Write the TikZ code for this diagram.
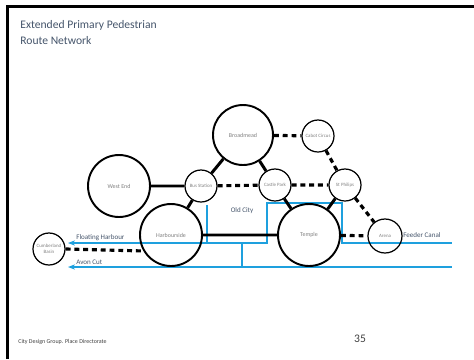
\documentclass[tikz,border=0pt]{standalone}
\usepackage{fontspec}
\setmainfont{Carlito}
\usetikzlibrary{arrows.meta}
\definecolor{water}{RGB}{30,160,222}
\definecolor{slate}{RGB}{68,84,106}
\begin{document}
\begin{tikzpicture}[x=0.02cm, y=-0.02cm,
  big/.style={circle, draw, line width=1.1pt, minimum size=1.24cm, inner sep=0pt, text=gray, font=\fontsize{3.4}{4}\selectfont},
  small/.style={circle, draw, line width=0.7pt, minimum size=0.64cm, inner sep=0pt, align=center, text=gray, font=\fontsize{2.8}{3.2}\selectfont},
  link/.style={line width=1.7pt},
  walk/.style={line width=1.8pt, dash pattern=on 2.8pt off 2.2pt},
  canal/.style={draw=water, line width=1.2pt},
  lbl/.style={inner sep=0pt, text=slate, font=\fontsize{4}{5}\selectfont}]
\useasboundingbox (0,0) rectangle (474,359);
\draw [line width=1.6pt] (7.5,359)--(7.5,6.3)--(474,6.3);
\node [anchor=west, inner sep=0pt, text=slate, font=\fontsize{6.6}{8}\selectfont] (title1) at (20,25) {Extended Primary Pedestrian};
\node [anchor=west, inner sep=0pt, text=slate, font=\fontsize{6.6}{8}\selectfont] (title2) at (20,41) {Route Network};
\node [anchor=west, inner sep=0pt, text=darkgray, font=\fontsize{3.4}{4}\selectfont] (foot) at (18,342) {City Design Group. Place Directorate};
\node [inner sep=0pt, text=darkgray, font=\fontsize{6.6}{8}\selectfont] (page) at (360,339) {35};
% water
\draw [canal, {Stealth[length=4pt]}-] (68,243)--(267,243)--(267,203)--(342,203)--(342,243)--(452,243);
\draw [canal] (207,205)--(207,243) (242,243)--(242,267);
\draw [canal, {Stealth[length=4pt]}-] (68,267)--(452,267);
\node [lbl, anchor=south west] (fh) at (76,241) {Floating Harbour};
\node [lbl, anchor=south west] (ac) at (76,265) {Avon Cut};
\node [lbl, anchor=west] (fc) at (403,235) {Feeder Canal};
\node [lbl] (oc) at (242,211) {Old City};
% places
\node [big] (we) at (119,186) {West End};
\node [big, minimum size=1.2cm] (bm) at (243,135) {Broadmead};
\node [big] (hb) at (171,235) {Harbourside};
\node [big] (tp) at (309,235) {Temple};
\node [small] (bs) at (201,186) {Bus Station};
\node [small] (cp) at (275,185) {Castle Park};
\node [small] (cc) at (318,136) {Cabot Circus};
\node [small] (sp) at (345,185) {St Philips};
\node [small, minimum size=0.68cm] (ar) at (385,236) {Arena};
\node [small] (cb) at (49,249) {Cumberland\\Basin};
% routes
\draw [link] (we)--(bs) (bs)--(bm) (bm)--(cp) (bs)--(hb) (cp)--(tp) (sp)--(tp) (hb)--(tp);
\draw [walk] (bs)--(cp) (cp)--(sp) (bm)--(cc) (cc)--(sp) (sp)--(ar) (tp)--(ar);
\draw [walk] (cb.east)--(hb.210);
\end{tikzpicture}
\end{document}
